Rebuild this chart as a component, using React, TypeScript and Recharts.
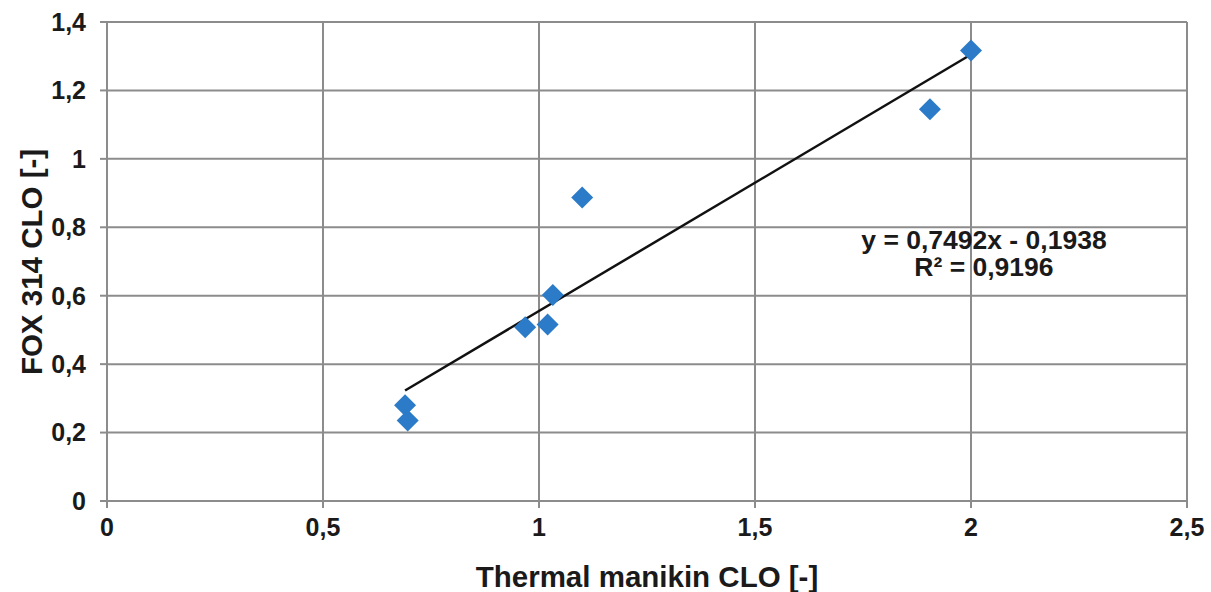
import { CartesianGrid, ReferenceDot, ReferenceLine, Scatter, ScatterChart, XAxis, YAxis } from "recharts";

const manikinClo = [0.69, 0.696, 0.968, 1.02, 1.032, 1.1, 1.905, 2.0];
const foxClo = [0.28, 0.235, 0.508, 0.516, 0.602, 0.887, 1.145, 1.317];
const xTicks = [0, 0.5, 1, 1.5, 2, 2.5];
const yTicks = [0, 0.2, 0.4, 0.6, 0.8, 1, 1.2, 1.4];
const trendStart = { x: 0.69, y: 0.323 };
const trendEnd = { x: 2.0, y: 1.305 };
const equationLines = ["y = 0,7492x - 0,1938", "R² = 0,9196"];

const points = manikinClo.map((x, i) => ({ x, y: foxClo[i] }));

const FONT = "'Liberation Sans', Arial, sans-serif";
const GRID = "#8c8c8c";
const fmt = (v: number) => String(v).replace(".", ",");

function Diamond(props: any) {
  const { cx, cy } = props;
  const r = 11;
  return <polygon points={`${cx},${cy - r} ${cx + r},${cy} ${cx},${cy + r} ${cx - r},${cy}`} fill="#2b7bc8" />;
}

function Equation(props: any) {
  const { viewBox } = props;
  const cx = viewBox.x + viewBox.width / 2;
  const cy = viewBox.y + viewBox.height / 2;
  return (
    <text x={cx} textAnchor="middle" fontFamily={FONT} fontWeight="bold" fontSize={26.5} fill="#1a1a1a">
      <tspan x={cx} y={cy}>{equationLines[0]}</tspan>
      <tspan x={cx} y={cy + 27}>{equationLines[1]}</tspan>
    </text>
  );
}

function YTitle() {
  return (
    <text x={31} y={262} transform="rotate(-90, 31, 262)" textAnchor="middle" dominantBaseline="central"
      fontFamily={FONT} fontWeight="bold" fontSize={29.5} fill="#1a1a1a">
      FOX 314 CLO [-]
    </text>
  );
}

export default function App() {
  const tickStyle = { fontSize: 25, fill: "#1a1a1a", fontFamily: FONT, fontWeight: "bold" as const };
  return (
    <div style={{ position: "absolute", left: 0, top: 0, width: 1211, height: 592, background: "#fff" }}>
      <ScatterChart width={1211} height={592} margin={{ top: 22, right: 24, bottom: 0, left: 0 }}>
        <CartesianGrid stroke={GRID} strokeWidth={2} />
        <XAxis
          type="number"
          dataKey="x"
          domain={[0, 2.5]}
          ticks={xTicks}
          tickFormatter={fmt}
          height={91}
          stroke={GRID}
          strokeWidth={2}
          tickSize={7}
          tickMargin={10}
          tick={tickStyle}
          label={{ value: "Thermal manikin CLO [-]", position: "insideBottom", offset: 5, fontSize: 29.5, fontWeight: "bold", fill: "#1a1a1a", fontFamily: FONT }}
        />
        <YAxis
          type="number"
          dataKey="y"
          domain={[0, 1.4]}
          ticks={yTicks}
          tickFormatter={fmt}
          width={107}
          stroke={GRID}
          strokeWidth={2}
          tickSize={7}
          tickMargin={14}
          tick={tickStyle}
          label={<YTitle />}
        />
        <ReferenceLine segment={[trendStart, trendEnd]} stroke="#111" strokeWidth={2.5} ifOverflow="visible" />
        <Scatter data={points} shape={<Diamond />} isAnimationActive={false} />
        <ReferenceDot x={2.03} y={0.737} r={0} stroke="none" fill="none" label={<Equation />} />
      </ScatterChart>
    </div>
  );
}
